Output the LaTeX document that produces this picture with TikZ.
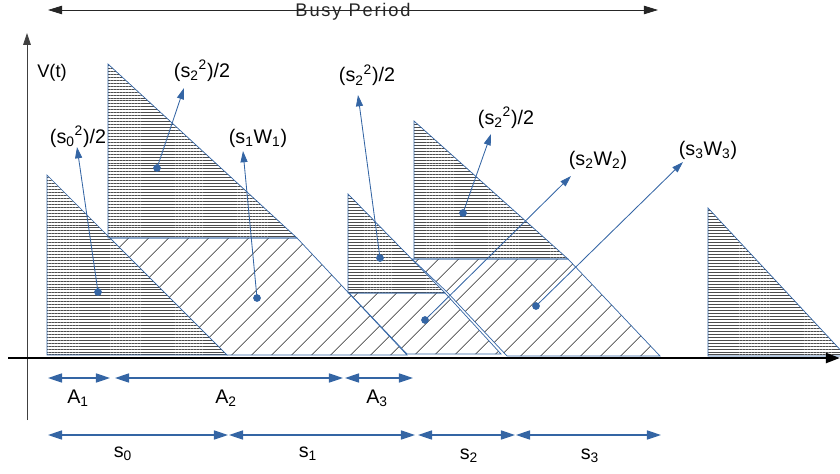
\documentclass[tikz,border=0pt]{standalone}
\usepackage{fontspec}
\setmainfont{Liberation Sans}
\usetikzlibrary{arrows.meta, patterns.meta, positioning}
\definecolor{qblue}{RGB}{52,101,164}

\begin{document}
\begin{tikzpicture}[x=0.025cm, y=-0.025cm,
    lbl/.style={anchor=base, inner sep=0pt, font=\fontsize{14}{16}\selectfont},
    jobtri/.style={draw=qblue, line width=0.5pt, pattern={Lines[angle=0, distance=2.1pt, line width=0.6pt]}, pattern color=black!70},
    waitarea/.style={draw=qblue, line width=0.5pt, pattern={Lines[angle=45, distance=10.5pt, line width=0.45pt]}, pattern color=black!85},
    dimline/.style={qblue, line width=0.8pt, {Triangle[length=10pt, width=6.5pt]}-{Triangle[length=10pt, width=6.5pt]}},
    leader/.style={qblue, line width=0.6pt, -{Triangle[length=8pt, width=5pt]}},
    leaddot/.style={circle, fill=qblue, inner sep=0pt, minimum size=5.5pt}]
\useasboundingbox (0,0) rectangle (840,473);

% waiting parts (diagonal hatch)
\draw[waitarea] (110,238) -- (297,238) -- (407,355) -- (227,355) -- cycle;
\draw[waitarea] (349,293) -- (445,293) -- (501,354) -- (407,354) -- cycle;
\draw[waitarea] (412,259) -- (568,259) -- (660,356) -- (507,356) -- (447,292) -- cycle;

% own service parts (horizontal hatch)
\draw[jobtri] (47,175) -- (47,355) -- (227,355) -- cycle;
\draw[jobtri] (108,64) -- (108,238) -- (297,238) -- cycle;
\draw[jobtri] (348,194) -- (348,293) -- (445,293) -- cycle;
\draw[jobtri] (414,121) -- (414,259) -- (568,259) -- cycle;
\draw[jobtri] (708,208) -- (708,356) -- (846,356) -- cycle;

% axes
\coordinate (yb) at (27,420);
\coordinate (yt) at (27,33);
\coordinate (xl) at (8,358);
\coordinate (xr) at (840,358);
\draw[black!75, line width=0.6pt, -{Triangle[length=8.5pt, width=5.5pt]}] (yb) -- (yt);
\draw[black, line width=1.8pt, -{Triangle[length=10pt, width=7pt]}] (xl) -- (xr);
\node[lbl, font=\fontsize{13}{15}\selectfont] (vt) at (52,78) {V(t)};

% busy period
\coordinate (bpl) at (48,10);
\coordinate (bpr) at (658,10);
\draw[black!85, line width=0.6pt, {Triangle[length=10pt, width=6pt]}-{Triangle[length=10pt, width=6pt]}] (bpl) -- node[inner sep=0pt, yshift=-1pt, font=\fontsize{13}{15}\selectfont\addfontfeatures{LetterSpace=10}] (busy) {Busy Period} (bpr);

% labels of the areas
\node[lbl] (q0) at (78,143) {(s\textsubscript{0}\textsuperscript{2})/2};
\node[lbl] (q1) at (202,77) {(s\textsubscript{2}\textsuperscript{2})/2};
\node[lbl] (w1) at (258,143) {(s\textsubscript{1}W\textsubscript{1})};
\node[lbl] (q2) at (367,82) {(s\textsubscript{2}\textsuperscript{2})/2};
\node[lbl] (q3) at (506,124) {(s\textsubscript{2}\textsuperscript{2})/2};
\node[lbl] (w2) at (598,165) {(s\textsubscript{2}W\textsubscript{2})};
\node[lbl] (w3) at (708,155) {(s\textsubscript{3}W\textsubscript{3})};

% leaders
\node[leaddot] (d0) at (98,292) {};
\node[leaddot] (d1) at (157,168) {};
\node[leaddot] (dw1) at (257,298) {};
\node[leaddot] (d2) at (380,258) {};
\node[leaddot] (d3) at (463,213) {};
\node[leaddot] (dw2) at (425,320) {};
\node[leaddot] (dw3) at (536,306) {};
\coordinate (t0) at (77,147);
\coordinate (t1) at (184,88);
\coordinate (tw1) at (243,151);
\coordinate (t2) at (358,95);
\coordinate (t3) at (491,134);
\coordinate (tw2) at (571,176);
\coordinate (tw3) at (683,162);
\draw[leader] (d0.center) -- (t0);
\draw[leader] (d1.center) -- (t1);
\draw[leader] (dw1.center) -- (tw1);
\draw[leader] (d2.center) -- (t2);
\draw[leader] (d3.center) -- (t3);
\draw[leader] (dw2.center) -- (tw2);
\draw[leader] (dw3.center) -- (tw3);

% arrival gaps
\coordinate (a0) at (48,378);
\coordinate (a1) at (110,378);
\coordinate (a1b) at (115,378);
\coordinate (a2) at (343,378);
\coordinate (a2b) at (345,378);
\coordinate (a3) at (413,378);
\draw[dimline] (a0) -- (a1);
\draw[dimline] (a1b) -- (a2);
\draw[dimline] (a2b) -- (a3);
\node[lbl] (A1) at (78,403) {A\textsubscript{1}};
\node[lbl] (A2) at (226,403) {A\textsubscript{2}};
\node[lbl] (A3) at (377,403) {A\textsubscript{3}};

% service times
\coordinate (s0l) at (48,435);
\coordinate (s0r) at (228,435);
\coordinate (s1l) at (229,435);
\coordinate (s1r) at (415,435);
\coordinate (s2l) at (418,435);
\coordinate (s2r) at (515,435);
\coordinate (s3l) at (516,435);
\coordinate (s3r) at (661,435);
\draw[dimline] (s0l) -- (s0r);
\draw[dimline] (s1l) -- (s1r);
\draw[dimline] (s2l) -- (s2r);
\draw[dimline] (s3l) -- (s3r);
\node[lbl] (S0) at (123,457) {s\textsubscript{0}};
\node[lbl] (S1) at (308,457) {s\textsubscript{1}};
\node[lbl] (S2) at (469,459) {s\textsubscript{2}};
\node[lbl] (S3) at (590,459) {s\textsubscript{3}};
\end{tikzpicture}
\end{document}
